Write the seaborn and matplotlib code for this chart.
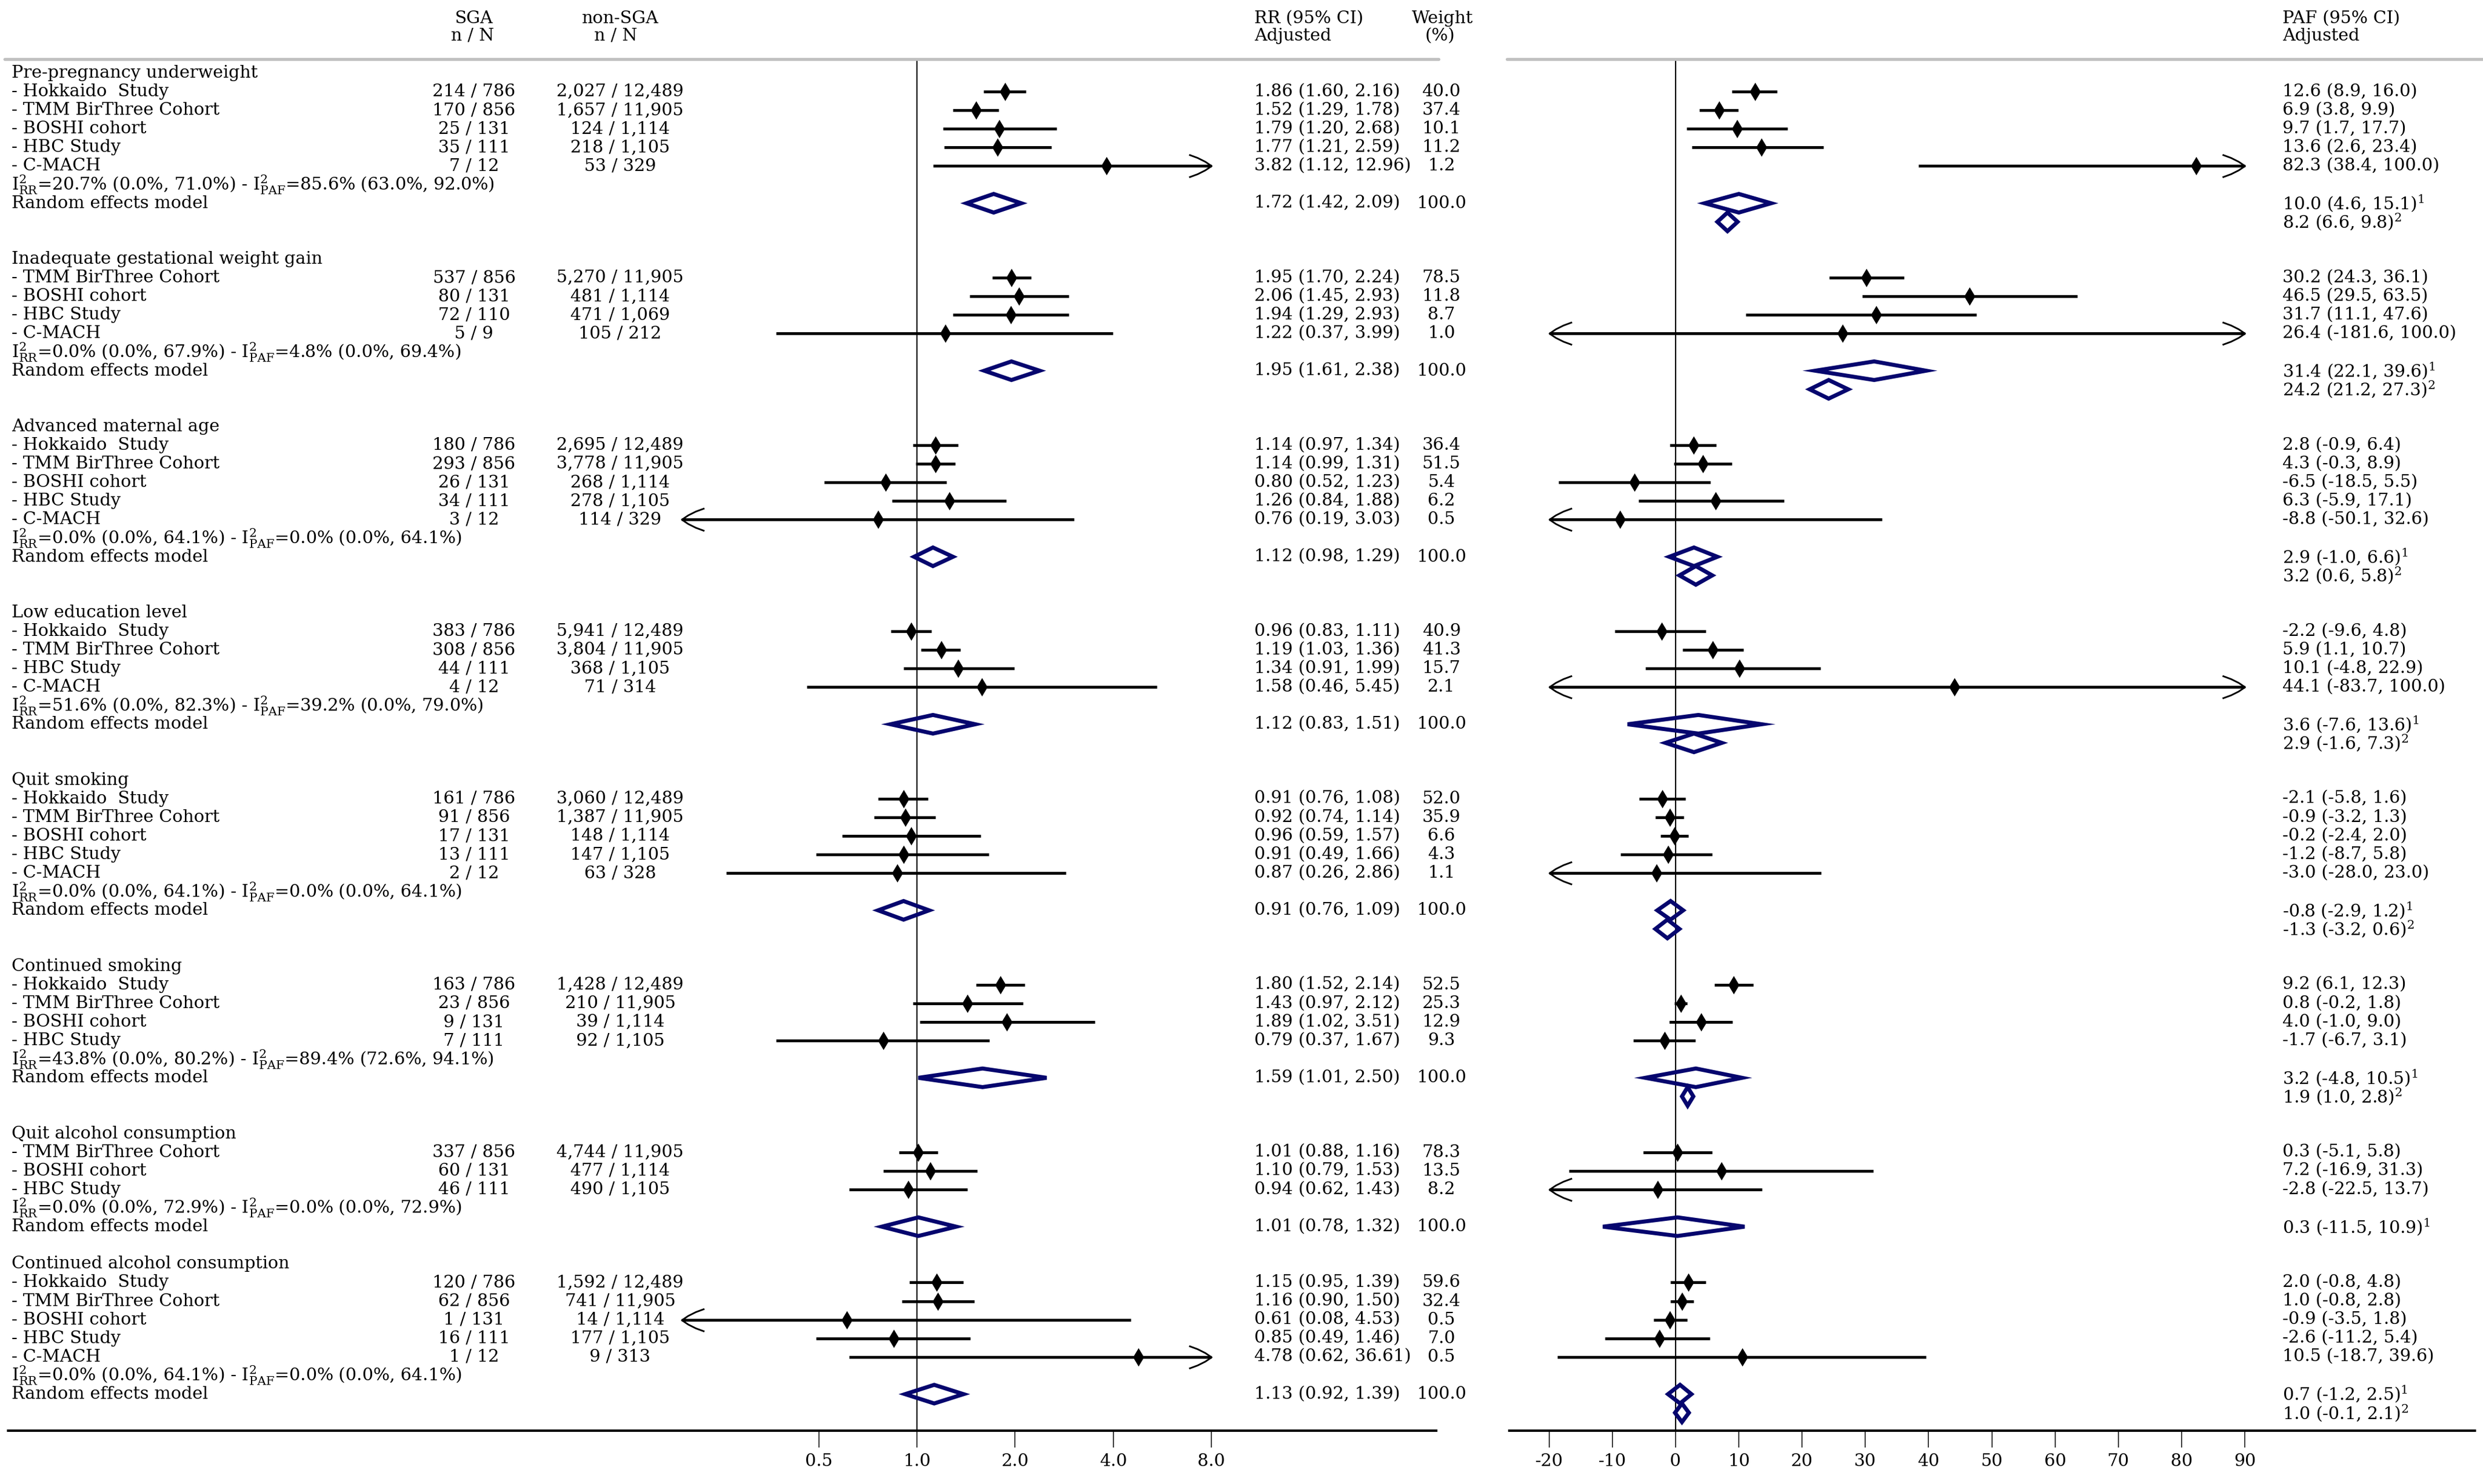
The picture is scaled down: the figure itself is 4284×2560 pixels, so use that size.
import matplotlib
matplotlib.use("Agg")
import matplotlib.pyplot as plt
import numpy as np
import pandas as pd
import seaborn as sns
from matplotlib.path import Path

# ---- data ------------------------------------------------------------------
section_titles = [
    "Pre-pregnancy underweight", "Inadequate gestational weight gain",
    "Advanced maternal age", "Low education level", "Quit smoking",
    "Continued smoking", "Quit alcohol consumption",
    "Continued alcohol consumption",
]
study_section = [0, 0, 0, 0, 0, 1, 1, 1, 1, 2, 2, 2, 2, 2, 3, 3, 3, 3,
                 4, 4, 4, 4, 4, 5, 5, 5, 5, 6, 6, 6, 7, 7, 7, 7, 7]
study_names = [
    "Hokkaido  Study", "TMM BirThree Cohort", "BOSHI cohort", "HBC Study", "C-MACH",
    "TMM BirThree Cohort", "BOSHI cohort", "HBC Study", "C-MACH",
    "Hokkaido  Study", "TMM BirThree Cohort", "BOSHI cohort", "HBC Study", "C-MACH",
    "Hokkaido  Study", "TMM BirThree Cohort", "HBC Study", "C-MACH",
    "Hokkaido  Study", "TMM BirThree Cohort", "BOSHI cohort", "HBC Study", "C-MACH",
    "Hokkaido  Study", "TMM BirThree Cohort", "BOSHI cohort", "HBC Study",
    "TMM BirThree Cohort", "BOSHI cohort", "HBC Study",
    "Hokkaido  Study", "TMM BirThree Cohort", "BOSHI cohort", "HBC Study", "C-MACH",
]
sga_n = [214, 170, 25, 35, 7, 537, 80, 72, 5, 180, 293, 26, 34, 3, 383, 308, 44, 4,
         161, 91, 17, 13, 2, 163, 23, 9, 7, 337, 60, 46, 120, 62, 1, 16, 1]
sga_N = [786, 856, 131, 111, 12, 856, 131, 110, 9, 786, 856, 131, 111, 12,
         786, 856, 111, 12, 786, 856, 131, 111, 12, 786, 856, 131, 111,
         856, 131, 111, 786, 856, 131, 111, 12]
non_n = [2027, 1657, 124, 218, 53, 5270, 481, 471, 105, 2695, 3778, 268, 278, 114,
         5941, 3804, 368, 71, 3060, 1387, 148, 147, 63, 1428, 210, 39, 92,
         4744, 477, 490, 1592, 741, 14, 177, 9]
non_N = [12489, 11905, 1114, 1105, 329, 11905, 1114, 1069, 212,
         12489, 11905, 1114, 1105, 329, 12489, 11905, 1105, 314,
         12489, 11905, 1114, 1105, 328, 12489, 11905, 1114, 1105,
         11905, 1114, 1105, 12489, 11905, 1114, 1105, 313]
rr = [1.86, 1.52, 1.79, 1.77, 3.82, 1.95, 2.06, 1.94, 1.22, 1.14, 1.14, 0.80, 1.26, 0.76,
      0.96, 1.19, 1.34, 1.58, 0.91, 0.92, 0.96, 0.91, 0.87, 1.80, 1.43, 1.89, 0.79,
      1.01, 1.10, 0.94, 1.15, 1.16, 0.61, 0.85, 4.78]
rr_lo = [1.60, 1.29, 1.20, 1.21, 1.12, 1.70, 1.45, 1.29, 0.37, 0.97, 0.99, 0.52, 0.84, 0.19,
         0.83, 1.03, 0.91, 0.46, 0.76, 0.74, 0.59, 0.49, 0.26, 1.52, 0.97, 1.02, 0.37,
         0.88, 0.79, 0.62, 0.95, 0.90, 0.08, 0.49, 0.62]
rr_hi = [2.16, 1.78, 2.68, 2.59, 12.96, 2.24, 2.93, 2.93, 3.99, 1.34, 1.31, 1.23, 1.88, 3.03,
         1.11, 1.36, 1.99, 5.45, 1.08, 1.14, 1.57, 1.66, 2.86, 2.14, 2.12, 3.51, 1.67,
         1.16, 1.53, 1.43, 1.39, 1.50, 4.53, 1.46, 36.61]
weight = [40.0, 37.4, 10.1, 11.2, 1.2, 78.5, 11.8, 8.7, 1.0, 36.4, 51.5, 5.4, 6.2, 0.5,
          40.9, 41.3, 15.7, 2.1, 52.0, 35.9, 6.6, 4.3, 1.1, 52.5, 25.3, 12.9, 9.3,
          78.3, 13.5, 8.2, 59.6, 32.4, 0.5, 7.0, 0.5]
paf = [12.6, 6.9, 9.7, 13.6, 82.3, 30.2, 46.5, 31.7, 26.4, 2.8, 4.3, -6.5, 6.3, -8.8,
       -2.2, 5.9, 10.1, 44.1, -2.1, -0.9, -0.2, -1.2, -3.0, 9.2, 0.8, 4.0, -1.7,
       0.3, 7.2, -2.8, 2.0, 1.0, -0.9, -2.6, 10.5]
paf_lo = [8.9, 3.8, 1.7, 2.6, 38.4, 24.3, 29.5, 11.1, -181.6, -0.9, -0.3, -18.5, -5.9, -50.1,
          -9.6, 1.1, -4.8, -83.7, -5.8, -3.2, -2.4, -8.7, -28.0, 6.1, -0.2, -1.0, -6.7,
          -5.1, -16.9, -22.5, -0.8, -0.8, -3.5, -11.2, -18.7]
paf_hi = [16.0, 9.9, 17.7, 23.4, 100.0, 36.1, 63.5, 47.6, 100.0, 6.4, 8.9, 5.5, 17.1, 32.6,
          4.8, 10.7, 22.9, 100.0, 1.6, 1.3, 2.0, 5.8, 23.0, 12.3, 1.8, 9.0, 3.1,
          5.8, 31.3, 13.7, 4.8, 2.8, 1.8, 5.4, 39.6]

i2_rr = [20.7, 0.0, 0.0, 51.6, 0.0, 43.8, 0.0, 0.0]
i2_rr_lo = [0.0, 0.0, 0.0, 0.0, 0.0, 0.0, 0.0, 0.0]
i2_rr_hi = [71.0, 67.9, 64.1, 82.3, 64.1, 80.2, 72.9, 64.1]
i2_paf = [85.6, 4.8, 0.0, 39.2, 0.0, 89.4, 0.0, 0.0]
i2_paf_lo = [63.0, 0.0, 0.0, 0.0, 0.0, 72.6, 0.0, 0.0]
i2_paf_hi = [92.0, 69.4, 64.1, 79.0, 64.1, 94.1, 72.9, 64.1]

re_rr = [1.72, 1.95, 1.12, 1.12, 0.91, 1.59, 1.01, 1.13]
re_rr_lo = [1.42, 1.61, 0.98, 0.83, 0.76, 1.01, 0.78, 0.92]
re_rr_hi = [2.09, 2.38, 1.29, 1.51, 1.09, 2.50, 1.32, 1.39]
re_paf = [10.0, 31.4, 2.9, 3.6, -0.8, 3.2, 0.3, 0.7]
re_paf_lo = [4.6, 22.1, -1.0, -7.6, -2.9, -4.8, -11.5, -1.2]
re_paf_hi = [15.1, 39.6, 6.6, 13.6, 1.2, 10.5, 10.9, 2.5]
pool_paf = [8.2, 24.2, 3.2, 2.9, -1.3, 1.9, None, 1.0]
pool_paf_lo = [6.6, 21.2, 0.6, -1.6, -3.2, 1.0, None, -0.1]
pool_paf_hi = [9.8, 27.3, 5.8, 7.3, 0.6, 2.8, None, 2.1]

rr_ticks = [0.5, 1.0, 2.0, 4.0, 8.0]
paf_ticks = [-20, -10, 0, 10, 20, 30, 40, 50, 60, 70, 80, 90]
rr_clip = (0.19, 8.0)
paf_clip = (-20, 90)

# ---- layout ---------------------------------------------------------------
W, H = 4284, 2560
ROW0, ROWH = 125.9, 32.1          # pixel y of row 0 and row height
AX_BOTTOM = 2468
FS = 21.5
NAVY = "#06066e"

sns.set_theme(style="white")
plt.rcParams["font.family"] = ["DejaVu Serif"]
plt.rcParams["mathtext.fontset"] = "dejavuserif"
plt.rcParams["axes.unicode_minus"] = False

# rows: title, studies, I2, RE, (pooled PAF), blank
study_row, title_row, i2_row, re_row = [], [], [], []
r = 0
for s, title in enumerate(section_titles):
    title_row.append(r)
    r += 1
    for k in range(len(study_section)):
        if study_section[k] == s:
            study_row.append(r)
            r += 1
    i2_row.append(r)
    re_row.append(r + 1)
    r += 3 if pool_paf[s] is None else 4

df = pd.DataFrame({
    "row": study_row, "name": study_names, "rr": rr, "rr_lo": rr_lo, "rr_hi": rr_hi,
    "paf": paf, "paf_lo": paf_lo, "paf_hi": paf_hi, "weight": weight,
})

fig = plt.figure(figsize=(W / 100, H / 100), dpi=100)
ax_rr = fig.add_axes([14 / W, 1 - AX_BOTTOM / H, 2464 / W, AX_BOTTOM / H])
ax_paf = fig.add_axes([2604 / W, 1 - AX_BOTTOM / H, 1666 / W, AX_BOTTOM / H])
for ax in (ax_rr, ax_paf):
    ax.patch.set_visible(False)

y_top = -ROW0 / ROWH
y_bot = (AX_BOTTOM - ROW0) / ROWH
line_row = (102 - ROW0) / ROWH

ax_rr.set_xscale("log", base=2)
ax_rr.set_xlim(2 ** ((14 - 1582) / 169.25), 2 ** ((2478 - 1582) / 169.25))
ax_paf.set_xlim((2604 - 2891) / 10.91, (4270 - 2891) / 10.91)


def chevron(direction):
    xs = np.array([1.0, 0.62, 0.28, 0.0, 0.28, 0.62, 1.0]) * direction
    ys = [0.5, 0.36, 0.19, 0.0, -0.19, -0.36, -0.5]
    return Path(np.column_stack([xs, ys]))


def draw_ci(ax, lo, hi, rows, clip):
    lo = np.asarray(lo, float)
    hi = np.asarray(hi, float)
    rows = np.asarray(rows, float)
    a = np.maximum(lo, clip[0])
    b = np.minimum(hi, clip[1])
    ax.hlines(rows, a, b, color="black", lw=3.5, zorder=2)
    left = lo <= clip[0]
    right = hi >= clip[1]
    ax.plot(np.full(left.sum(), clip[0]), rows[left], ls="none",
            marker=chevron(1), ms=56, mfc="none", mec="black", mew=2.1, zorder=3)
    ax.plot(np.full(right.sum(), clip[1]), rows[right], ls="none",
            marker=chevron(-1), ms=56, mfc="none", mec="black", mew=2.1, zorder=3)


def diamond(ax, est, lo, hi, row):
    ax.fill([lo, est, hi, est], [row, row - 0.5, row, row + 0.5],
            facecolor="none", edgecolor=NAVY, lw=5.0, joinstyle="miter", zorder=4)


draw_ci(ax_rr, df.rr_lo, df.rr_hi, df.row, rr_clip)
draw_ci(ax_paf, df.paf_lo, df.paf_hi, df.row, paf_clip)
sns.scatterplot(data=df, x="rr", y="row", marker="d", s=260, color="black",
                linewidth=0, ax=ax_rr, legend=False, zorder=5)
sns.scatterplot(data=df, x="paf", y="row", marker="d", s=260, color="black",
                linewidth=0, ax=ax_paf, legend=False, zorder=5)

for s in range(len(section_titles)):
    diamond(ax_rr, re_rr[s], re_rr_lo[s], re_rr_hi[s], re_row[s])
    diamond(ax_paf, re_paf[s], re_paf_lo[s], re_paf_hi[s], re_row[s])
    if pool_paf[s] is not None:
        diamond(ax_paf, pool_paf[s], pool_paf_lo[s], pool_paf_hi[s], re_row[s] + 1)

for ax, ref, x0, x1 in [(ax_rr, 1.0, -0.0024, 1.0016), (ax_paf, 0.0, -0.0024, 1.0084)]:
    ax.set_ylim(y_bot, y_top)
    ax.axhline(line_row, xmin=x0, xmax=x1, color="#c0c0c0", lw=3.8, clip_on=False)
    ax.vlines(ref, line_row, y_bot, color="black", lw=1.6, zorder=1)
    for side in ["top", "left", "right"]:
        ax.spines[side].set_visible(False)
    ax.spines["bottom"].set_color("black")
    ax.spines["bottom"].set_linewidth(3.0)
    ax.tick_params(axis="y", left=False, labelleft=False)
    ax.tick_params(axis="x", which="major", bottom=True, direction="out", length=21,
                   width=1.1, pad=7, labelsize=FS, colors="black")
    ax.set_xlabel("")
    ax.set_ylabel("")
    ax.grid(False)

ax_rr.xaxis.set_major_locator(matplotlib.ticker.FixedLocator(rr_ticks))
ax_rr.xaxis.set_minor_locator(matplotlib.ticker.NullLocator())
ax_rr.set_xticklabels([f"{t:.1f}" for t in rr_ticks])
ax_paf.set_xticks(paf_ticks)
ax_paf.set_xticklabels([str(t) for t in paf_ticks])


# ---- text columns ---------------------------------------------------------
def fl(px):
    return (px - 14) / 2464


def fr(px):
    return (px - 2604) / 1666


def put(ax, x, row, s, ha="left"):
    ax.text(x, row, s, transform=ax.get_yaxis_transform(), ha=ha, va="center",
            fontsize=FS, color="black", clip_on=False)


h1, h2 = (32 - ROW0) / ROWH, (62 - ROW0) / ROWH
put(ax_rr, fl(818), h1, "SGA", "center")
put(ax_rr, fl(815), h2, "n / N", "center")
put(ax_rr, fl(1070), h1, "non-SGA", "center")
put(ax_rr, fl(1062), h2, "n / N", "center")
put(ax_rr, fl(2164), h1, "RR (95% CI)")
put(ax_rr, fl(2164), h2, "Adjusted")
put(ax_rr, fl(2489), h1, "Weight", "center")
put(ax_rr, fl(2485), h2, "(%)", "center")
put(ax_paf, fr(3938), h1, "PAF (95% CI)")
put(ax_paf, fr(3938), h2, "Adjusted")

for k, row in enumerate(study_row):
    put(ax_rr, fl(20), row, "- " + study_names[k])
    put(ax_rr, fl(818), row, f"{sga_n[k]:,} / {sga_N[k]:,}", "center")
    put(ax_rr, fl(1070), row, f"{non_n[k]:,} / {non_N[k]:,}", "center")
    put(ax_rr, fl(2164), row, f"{rr[k]:.2f} ({rr_lo[k]:.2f}, {rr_hi[k]:.2f})")
    put(ax_rr, fl(2487), row, f"{weight[k]:.1f}", "center")
    put(ax_paf, fr(3938), row, f"{paf[k]:.1f} ({paf_lo[k]:.1f}, {paf_hi[k]:.1f})")

for s, title in enumerate(section_titles):
    put(ax_rr, fl(20), title_row[s], title)
    put(ax_rr, fl(20), i2_row[s],
        r"I$^{2}_{\mathrm{RR}}$" + f"={i2_rr[s]:.1f}% ({i2_rr_lo[s]:.1f}%, {i2_rr_hi[s]:.1f}%) - "
        + r"I$^{2}_{\mathrm{PAF}}$" + f"={i2_paf[s]:.1f}% ({i2_paf_lo[s]:.1f}%, {i2_paf_hi[s]:.1f}%)")
    put(ax_rr, fl(20), re_row[s], "Random effects model")
    put(ax_rr, fl(2164), re_row[s], f"{re_rr[s]:.2f} ({re_rr_lo[s]:.2f}, {re_rr_hi[s]:.2f})")
    put(ax_rr, fl(2487), re_row[s], "100.0", "center")
    put(ax_paf, fr(3938), re_row[s],
        f"{re_paf[s]:.1f} ({re_paf_lo[s]:.1f}, {re_paf_hi[s]:.1f})" + r"$^{1}$")
    if pool_paf[s] is not None:
        put(ax_paf, fr(3938), re_row[s] + 1,
            f"{pool_paf[s]:.1f} ({pool_paf_lo[s]:.1f}, {pool_paf_hi[s]:.1f})" + r"$^{2}$")

fig.savefig("out.png", dpi=100)
